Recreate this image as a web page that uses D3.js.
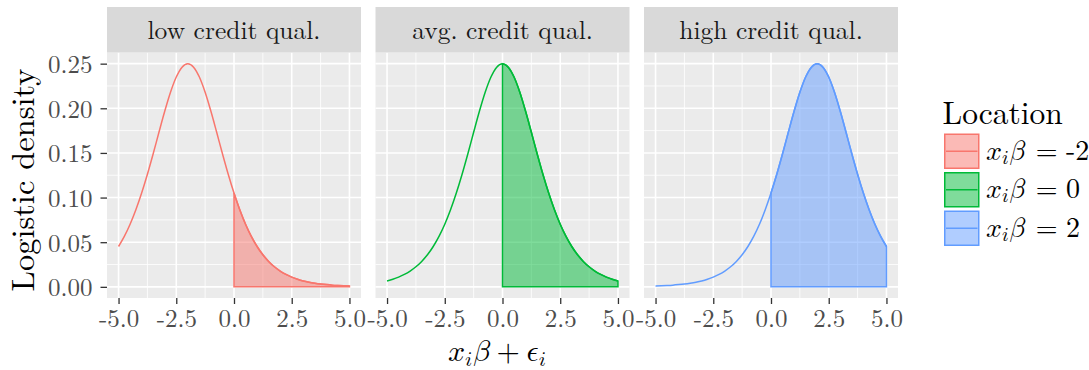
<!DOCTYPE html>
<html>
<head>
<meta charset="utf-8">
<script src="https://cdn.jsdelivr.net/npm/d3@7"></script>
<style>
  html, body { margin: 0; padding: 0; background: #fff; }
  svg { display: block; font-family: "Latin Modern Roman", "Liberation Serif", serif; }
  .m { font-family: "Latin Modern Math", "Latin Modern Roman", "DejaVu Serif", serif; }
</style>
</head>
<body>
<svg id="chart" width="1089" height="370"></svg>
<script>
// facets / series
const facetLabels = ["low credit qual.", "avg. credit qual.", "high credit qual."];
const locationLabels = ["-2", "0", "2"];
const colors = ["#F8766D", "#00BA38", "#619CFF"];

// x grid shared by the three density curves
const xGrid = [-5, -4.75, -4.5, -4.25, -4, -3.75, -3.5, -3.25, -3, -2.75, -2.5, -2.25, -2, -1.75, -1.5, -1.25,
  -1, -0.75, -0.5, -0.25, 0, 0.25, 0.5, 0.75, 1, 1.25, 1.5, 1.75, 2, 2.25, 2.5, 2.75, 3, 3.25, 3.5, 3.75,
  4, 4.25, 4.5, 4.75, 5];

// logistic density, location -2
const densLow = [0.0452, 0.0565, 0.0701, 0.0863, 0.1050, 0.1261, 0.1491, 0.1731, 0.1966, 0.2179, 0.2350, 0.2461,
  0.2500, 0.2461, 0.2350, 0.2179, 0.1966, 0.1731, 0.1491, 0.1261, 0.1050, 0.0863, 0.0701, 0.0565, 0.0452,
  0.0359, 0.0285, 0.0225, 0.0177, 0.0139, 0.0109, 0.0085, 0.0066, 0.0052, 0.0041, 0.0032, 0.0025, 0.0019,
  0.0015, 0.0012, 0.0009];
// location 0
const densAvg = [0.0066, 0.0085, 0.0109, 0.0139, 0.0177, 0.0225, 0.0285, 0.0359, 0.0452, 0.0565, 0.0701, 0.0863,
  0.1050, 0.1261, 0.1491, 0.1731, 0.1966, 0.2179, 0.2350, 0.2461, 0.2500, 0.2461, 0.2350, 0.2179, 0.1966,
  0.1731, 0.1491, 0.1261, 0.1050, 0.0863, 0.0701, 0.0565, 0.0452, 0.0359, 0.0285, 0.0225, 0.0177, 0.0139,
  0.0109, 0.0085, 0.0066];
// location 2
const densHigh = [0.0009, 0.0012, 0.0015, 0.0019, 0.0025, 0.0032, 0.0041, 0.0052, 0.0066, 0.0085, 0.0109, 0.0139,
  0.0177, 0.0225, 0.0285, 0.0359, 0.0452, 0.0565, 0.0701, 0.0863, 0.1050, 0.1261, 0.1491, 0.1731, 0.1966,
  0.2179, 0.2350, 0.2461, 0.2500, 0.2461, 0.2350, 0.2179, 0.1966, 0.1731, 0.1491, 0.1261, 0.1050, 0.0863,
  0.0701, 0.0565, 0.0452];

const densities = [densLow, densAvg, densHigh];
const shadeFrom = 0; // area shaded for x >= 0

const xTicks = [-5, -2.5, 0, 2.5, 5];
const xTickLabels = ["-5.0", "-2.5", "0.0", "2.5", "5.0"];
const yTicks = [0, 0.05, 0.10, 0.15, 0.20, 0.25];
const yTickLabels = ["0.00", "0.05", "0.10", "0.15", "0.20", "0.25"];

// layout
const svg = d3.select("#chart");
const plotLeft = 107, panelW = 254, panelGap = 14.5;
const stripTop = 7, panelTop = 52.5, panelBottom = 298;

const x = d3.scaleLinear().domain([-5.5, 5.5]).range([0, panelW]);
const y = d3.scaleLinear().domain([-0.0125, 0.2625]).range([panelBottom, panelTop]);

const xMinor = d3.pairs(xTicks).map(p => (p[0] + p[1]) / 2);
const yMinor = d3.pairs(yTicks).map(p => (p[0] + p[1]) / 2);

const line = d3.line().x((d, j) => x(xGrid[j])).y(d => y(d)).curve(d3.curveMonotoneX);
const area = d3.area().x(d => x(d.x)).y0(y(0)).y1(d => y(d.y)).curve(d3.curveMonotoneX);

facetLabels.forEach((label, i) => {
  const px = plotLeft + i * (panelW + panelGap);
  const g = svg.append("g").attr("transform", `translate(${px}, 0)`);

  g.append("rect")
    .attr("x", 0).attr("y", panelTop)
    .attr("width", panelW).attr("height", panelBottom - panelTop)
    .attr("fill", "#EBEBEB");

  // minor grid
  g.selectAll(".xminor").data(xMinor).enter().append("line")
    .attr("x1", d => x(d)).attr("x2", d => x(d))
    .attr("y1", panelTop).attr("y2", panelBottom)
    .attr("stroke", "#fff").attr("stroke-width", 0.8);
  g.selectAll(".yminor").data(yMinor).enter().append("line")
    .attr("x1", 0).attr("x2", panelW)
    .attr("y1", d => y(d)).attr("y2", d => y(d))
    .attr("stroke", "#fff").attr("stroke-width", 0.8);
  // major grid
  g.selectAll(".xmajor").data(xTicks).enter().append("line")
    .attr("x1", d => x(d)).attr("x2", d => x(d))
    .attr("y1", panelTop).attr("y2", panelBottom)
    .attr("stroke", "#fff").attr("stroke-width", 1.6);
  g.selectAll(".ymajor").data(yTicks).enter().append("line")
    .attr("x1", 0).attr("x2", panelW)
    .attr("y1", d => y(d)).attr("y2", d => y(d))
    .attr("stroke", "#fff").attr("stroke-width", 1.6);

  const dens = densities[i];
  const shaded = xGrid.map((xv, j) => ({x: xv, y: dens[j]})).filter(d => d.x >= shadeFrom);

  g.append("path")
    .attr("d", area(shaded))
    .attr("fill", colors[i]).attr("fill-opacity", 0.5)
    .attr("stroke", colors[i]).attr("stroke-width", 1.5);

  g.append("path")
    .attr("d", line(dens))
    .attr("fill", "none")
    .attr("stroke", colors[i]).attr("stroke-width", 1.5);

  // strip
  g.append("rect")
    .attr("x", 0).attr("y", stripTop)
    .attr("width", panelW).attr("height", panelTop - stripTop)
    .attr("fill", "#D9D9D9");
  g.append("text")
    .attr("x", panelW / 2).attr("y", 38.5)
    .attr("text-anchor", "middle")
    .attr("font-size", 25.5)
    .attr("fill", "#1A1A1A")
    .text(label);

  // x axis
  const xAxisG = g.append("g")
    .attr("transform", `translate(0, ${panelBottom})`)
    .call(d3.axisBottom(x).tickValues(xTicks).tickFormat((d, k) => xTickLabels[k]).tickSize(6));
  xAxisG.select(".domain").remove();
  xAxisG.selectAll(".tick line").attr("stroke", "#333").attr("stroke-width", 1.3);
  xAxisG.selectAll(".tick text")
    .attr("y", 29).attr("dy", 0)
    .style("font-family", '"Latin Modern Roman", "Liberation Serif", serif')
    .style("font-size", "25px")
    .attr("fill", "#4D4D4D");

  if (i === 0) {
    const yAxisG = svg.append("g")
      .attr("transform", `translate(${px}, 0)`)
      .call(d3.axisLeft(y).tickValues(yTicks).tickFormat((d, k) => yTickLabels[k]).tickSize(6.5));
    yAxisG.select(".domain").remove();
    yAxisG.selectAll(".tick line").attr("stroke", "#333").attr("stroke-width", 1.3);
    yAxisG.selectAll(".tick text")
      .attr("x", -14.5).attr("dy", 9)
      .style("font-family", '"Latin Modern Roman", "Liberation Serif", serif')
      .style("font-size", "25px")
      .attr("fill", "#4D4D4D");
  }
});

// math label helper: x_i beta (math italic glyphs)
function mathX(text, size) {
  text.append("tspan").attr("class", "m").text("\u{1D465}");
  text.append("tspan").attr("class", "m").attr("font-size", size * 0.7)
    .attr("dy", size * 0.15).text("\u{1D456}");
  text.append("tspan").attr("class", "m").attr("dy", -size * 0.15).attr("dx", size * 0.02).text("\u{1D6FD}");
}

// axis titles
svg.append("text")
  .attr("transform", "translate(33.5, 180) rotate(-90)")
  .attr("text-anchor", "middle")
  .attr("font-size", 32.5)
  .attr("fill", "#000")
  .text("Logistic density");

const xTitle = svg.append("text")
  .attr("x", 497).attr("y", 361)
  .attr("text-anchor", "middle")
  .attr("font-size", 30)
  .attr("fill", "#000");
mathX(xTitle, 30);
xTitle.append("tspan").attr("class", "m").attr("dx", 30 * 0.222).text("+");
xTitle.append("tspan").attr("class", "m").attr("dx", 30 * 0.222).text("\u{1D716}");
xTitle.append("tspan").attr("class", "m").attr("font-size", 30 * 0.7)
  .attr("dy", 30 * 0.15).text("\u{1D456}");

// legend
const legend = svg.append("g").attr("transform", "translate(944, 0)");
legend.append("text")
  .attr("x", -1.5).attr("y", 123.5)
  .attr("font-size", 31.5)
  .attr("fill", "#000")
  .text("Location");

const keySize = 35.5, keyStep = 38.5, keyTop = 133.5;
const labSize = 28;
locationLabels.forEach((lab, i) => {
  const ky = keyTop + i * keyStep;
  legend.append("rect")
    .attr("x", 0.75).attr("y", ky + 0.75)
    .attr("width", keySize - 1.5).attr("height", keySize - 1.5)
    .attr("fill", colors[i]).attr("fill-opacity", 0.5)
    .attr("stroke", colors[i]).attr("stroke-width", 1.5);
  legend.append("line")
    .attr("x1", 2).attr("x2", keySize - 2)
    .attr("y1", ky + keySize / 2).attr("y2", ky + keySize / 2)
    .attr("stroke", colors[i]).attr("stroke-width", 1.5);
  const t = legend.append("text")
    .attr("x", 42).attr("y", ky + keySize / 2 + 8.5)
    .attr("font-size", labSize)
    .attr("fill", "#000");
  mathX(t, labSize);
  t.append("tspan").attr("class", "m").attr("dx", labSize * 0.38).text("=");
  t.append("tspan").attr("dx", labSize * 0.3).text(lab);
});
</script>
</body>
</html>
